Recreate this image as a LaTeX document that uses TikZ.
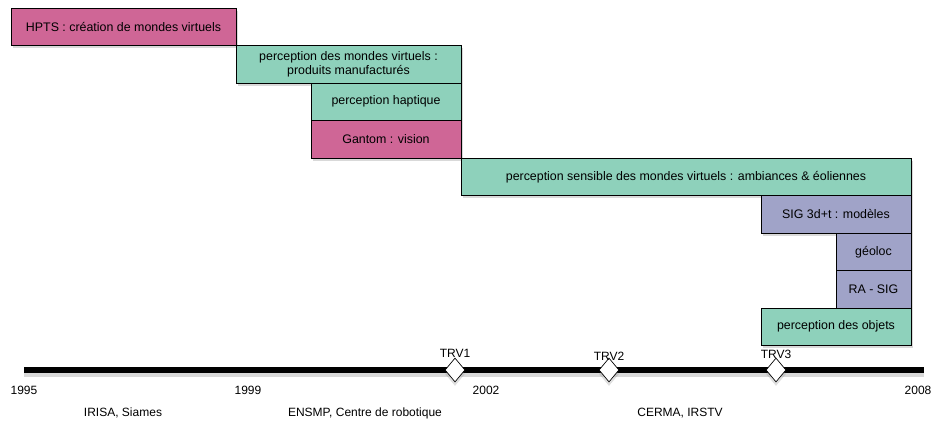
\documentclass[tikz,border=0pt]{standalone}
\usepackage{fontspec}
\setmainfont{Liberation Sans}
\usetikzlibrary{positioning,shadows,shapes.geometric}
\definecolor{rose}{RGB}{207,102,150}
\definecolor{vert}{RGB}{142,209,187}
\definecolor{mauve}{RGB}{160,163,200}
\begin{document}
\begin{tikzpicture}
            [x=0.75pt,y=-0.75pt,
            main/.style ={draw,line width=0.6pt,minimum height=28.125pt,inner sep=0pt,outer sep=0pt,align=center,
              font=\fontsize{9.3}{10.6}\selectfont,
              drop shadow={opacity=0.3,shadow xshift=1.2pt,shadow yshift=-2pt}},
            jalon/.style ={draw,diamond,fill=white,line width=0.5pt,minimum width=15pt,minimum height=18pt,inner sep=0pt,
              drop shadow={opacity=0.25,shadow xshift=0pt,shadow yshift=-3pt}},
            txt/.style ={font=\fontsize{9}{10}\selectfont,inner sep=1pt}]
            \useasboundingbox (0,0) rectangle (935,421);
            \node[main][fill=rose,minimum width=168.75pt,anchor=north west] (a) at (11,8){HPTS : création de mondes virtuels};
            \node[main][fill=vert,minimum width=168.75pt] (b)[below right=0pt and 0pt of a.south east]{perception des mondes virtuels :\\produits manufacturés};
            \node[main][fill=vert,minimum width=112.5pt] (c)[below left=0pt and 0pt of b.south east]{perception haptique};
            \node[main][fill=rose,minimum width=112.5pt] (d)[below left=0pt and 0pt of c.south east]{Gantom : vision};
            \node[main][fill=vert,minimum width=337.5pt] (e)[below right=0pt and 0pt of d.south east]{perception sensible des mondes virtuels : ambiances \& éoliennes};
            \node[main][fill=mauve,minimum width=112.5pt] (f)[below left=0pt and 0pt of e.south east]{SIG 3d+t : modèles};
            \node[main][fill=mauve,minimum width=56.25pt] (g)[below left=0pt and 0pt of f.south east]{géoloc};
            \node[main][fill=mauve,minimum width=56.25pt] (h)[below left=0pt and 0pt of g.south east]{RA - SIG};
            \node[main][fill=vert,minimum width=112.5pt] (i)[below left=0pt and 0pt of h.south east]{perception des objets};
            \coordinate (debut) at (24,370);
            \coordinate (fin) at (924,370);
            \draw[line width=4.5pt,preaction={draw,black,opacity=0.15,line width=6pt,transform canvas={yshift=-2.5pt}}] (debut) -- (fin);
            \node[jalon] (t1) at (455,370){};
            \node[jalon] (t2) at (609,370){};
            \node[jalon] (t3) at (776,370){};
            \node[txt] (trv1)[above=-1pt of t1]{TRV1};
            \node[txt] (trv2)[above=-3.5pt of t2]{TRV2};
            \node[txt] (trv3)[above=-2pt of t3]{TRV3};
            \node[txt] (y1) at (24,390){1995};
            \node[txt] (y2) at (248,390){1999};
            \node[txt] (y3) at (486,390){2002};
            \node[txt] (y4) at (918,390){2008};
            \node[txt] (o1) at (123,413){IRISA, Siames};
            \node[txt] (o2) at (365,413){ENSMP, Centre de robotique};
            \node[txt] (o3) at (680,413){CERMA, IRSTV};
        \end{tikzpicture}
\end{document}
